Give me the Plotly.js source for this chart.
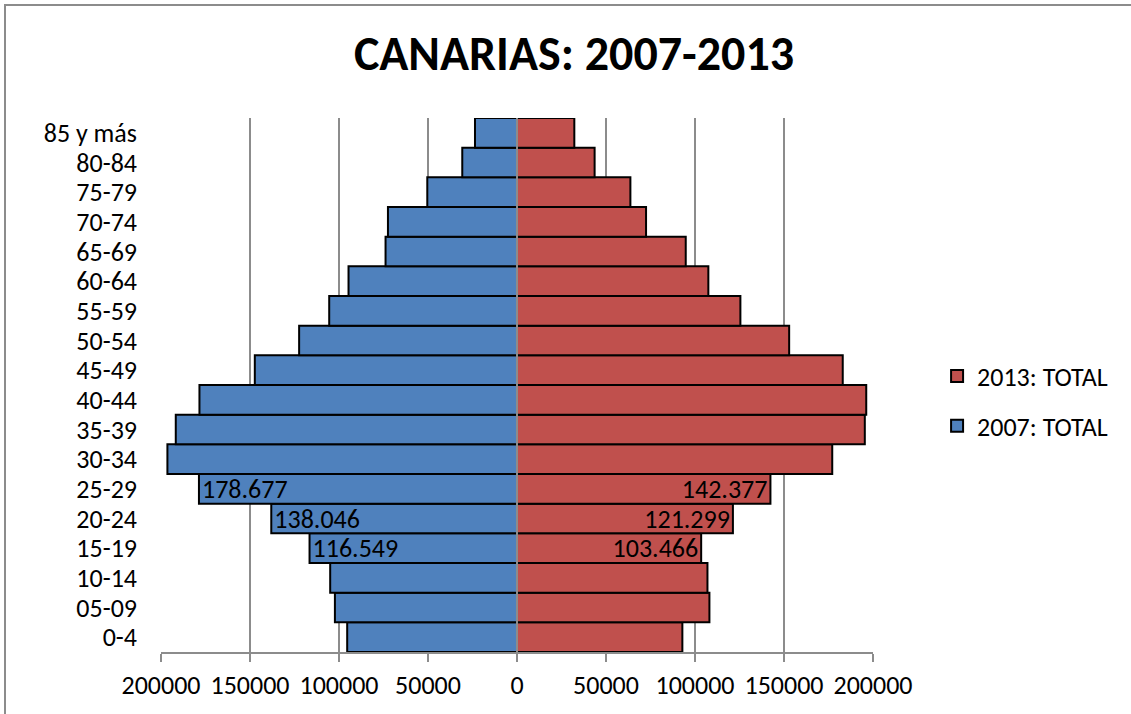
<!DOCTYPE html>
<html>
<head>
<meta charset="utf-8">
<script src="https://cdn.plot.ly/plotly-3.0.1.min.js"></script>
<style>
  html, body { margin: 0; padding: 0; overflow: hidden; background: #fff; }
  #chart { width: 1131px; height: 714px; }
  #frame { position: absolute; left: 4px; top: 4px; width: 1200px; height: 800px;
           border: 2px solid #8c8c8c; pointer-events: none; box-sizing: border-box; }
</style>
</head>
<body>
<div id="chart"></div>
<div id="frame"></div>
<script>
const ageGroups = ["0-4","05-09","10-14","15-19","20-24","25-29","30-34","35-39","40-44",
                   "45-49","50-54","55-59","60-64","65-69","70-74","75-79","80-84","85 y más"];
const total2007 = [95400,102300,104950,116549,138046,178677,196400,191700,178400,
                   147300,122400,105500,94650,73850,72500,50400,30750,23600];
const total2013 = [92900,108100,107000,103466,121299,142377,177100,195400,196200,
                   183000,152900,125500,107500,94800,72500,63700,43600,32200];
const labels2007 = ["","","","116.549","138.046","178.677","","","","","","","","","","","",""];
const labels2013 = ["","","","103.466","121.299","142.377","","","","","","","","","","","",""];
const tickValues = [-200000,-150000,-100000,-50000,0,50000,100000,150000,200000];
const tickLabels = ["200000","150000","100000","50000","0","50000","100000","150000","200000"];

const FONT = "Carlito, Calibri, Lato, sans-serif";
const FS = 26;

const traces = [
  {
    type: "bar", orientation: "h", name: "2007: TOTAL", legendrank: 2, legendgroup: "b",
    y: ageGroups, x: total2007.map(v => -v),
    text: labels2007, textposition: "inside", insidetextanchor: "end",
    textfont: {family: FONT, size: FS, color: "#000"}, constraintext: "none",
    marker: {color: "#4F81BD", line: {color: "#000", width: 2}},
    hoverinfo: "none"
  },
  {
    type: "bar", orientation: "h", name: "2013: TOTAL", legendrank: 1, legendgroup: "a",
    y: ageGroups, x: total2013,
    text: labels2013, textposition: "inside", insidetextanchor: "end",
    textfont: {family: FONT, size: FS, color: "#000"}, constraintext: "none",
    marker: {color: "#C0504D", line: {color: "#000", width: 2}},
    hoverinfo: "none"
  }
];

const layout = {
  width: 1131, height: 714,
  margin: {l: 161, r: 258, t: 118, b: 62},
  paper_bgcolor: "#fff", plot_bgcolor: "#fff",
  font: {family: FONT, size: FS, color: "#000"},
  title: {text: "<b>CANARIAS: 2007-2013</b>", font: {family: FONT, size: 48, color: "#000"},
          xref: "container", x: 0.5075, xanchor: "center", yref: "container", y: 0.925, yanchor: "middle"},
  barmode: "relative", bargap: 0,
  showlegend: true,
  legend: {traceorder: "grouped", tracegroupgap: 13, x: 1.09, xanchor: "left", y: 0.47, yanchor: "middle",
           font: {family: FONT, size: FS, color: "#000"}, bgcolor: "rgba(0,0,0,0)"},
  xaxis: {
    range: [-200000, 200000], tickvals: tickValues, ticktext: tickLabels,
    showgrid: true, gridcolor: "#8c8c8c", gridwidth: 2,
    zeroline: false, showline: true, linecolor: "#8c8c8c", linewidth: 2,
    ticks: "outside", ticklen: 8, tickwidth: 2, tickcolor: "#8c8c8c",
    ticklabelstandoff: 1, fixedrange: true
  },
  yaxis: {
    type: "category", showgrid: false, zeroline: false, showline: false, ticks: "",
    tickmode: "array", tickvals: ageGroups, ticktext: ageGroups,
    ticklabelstandoff: 23, fixedrange: true
  },
  shapes: [
    {type: "line", xref: "x", yref: "paper", x0: 0, x1: 0, y0: 0, y1: 1, layer: "above",
     line: {color: "#8c8c8c", width: 2}}
  ]
};

Plotly.newPlot("chart", traces, layout, {staticPlot: true, displayModeBar: false});
</script>
</body>
</html>
